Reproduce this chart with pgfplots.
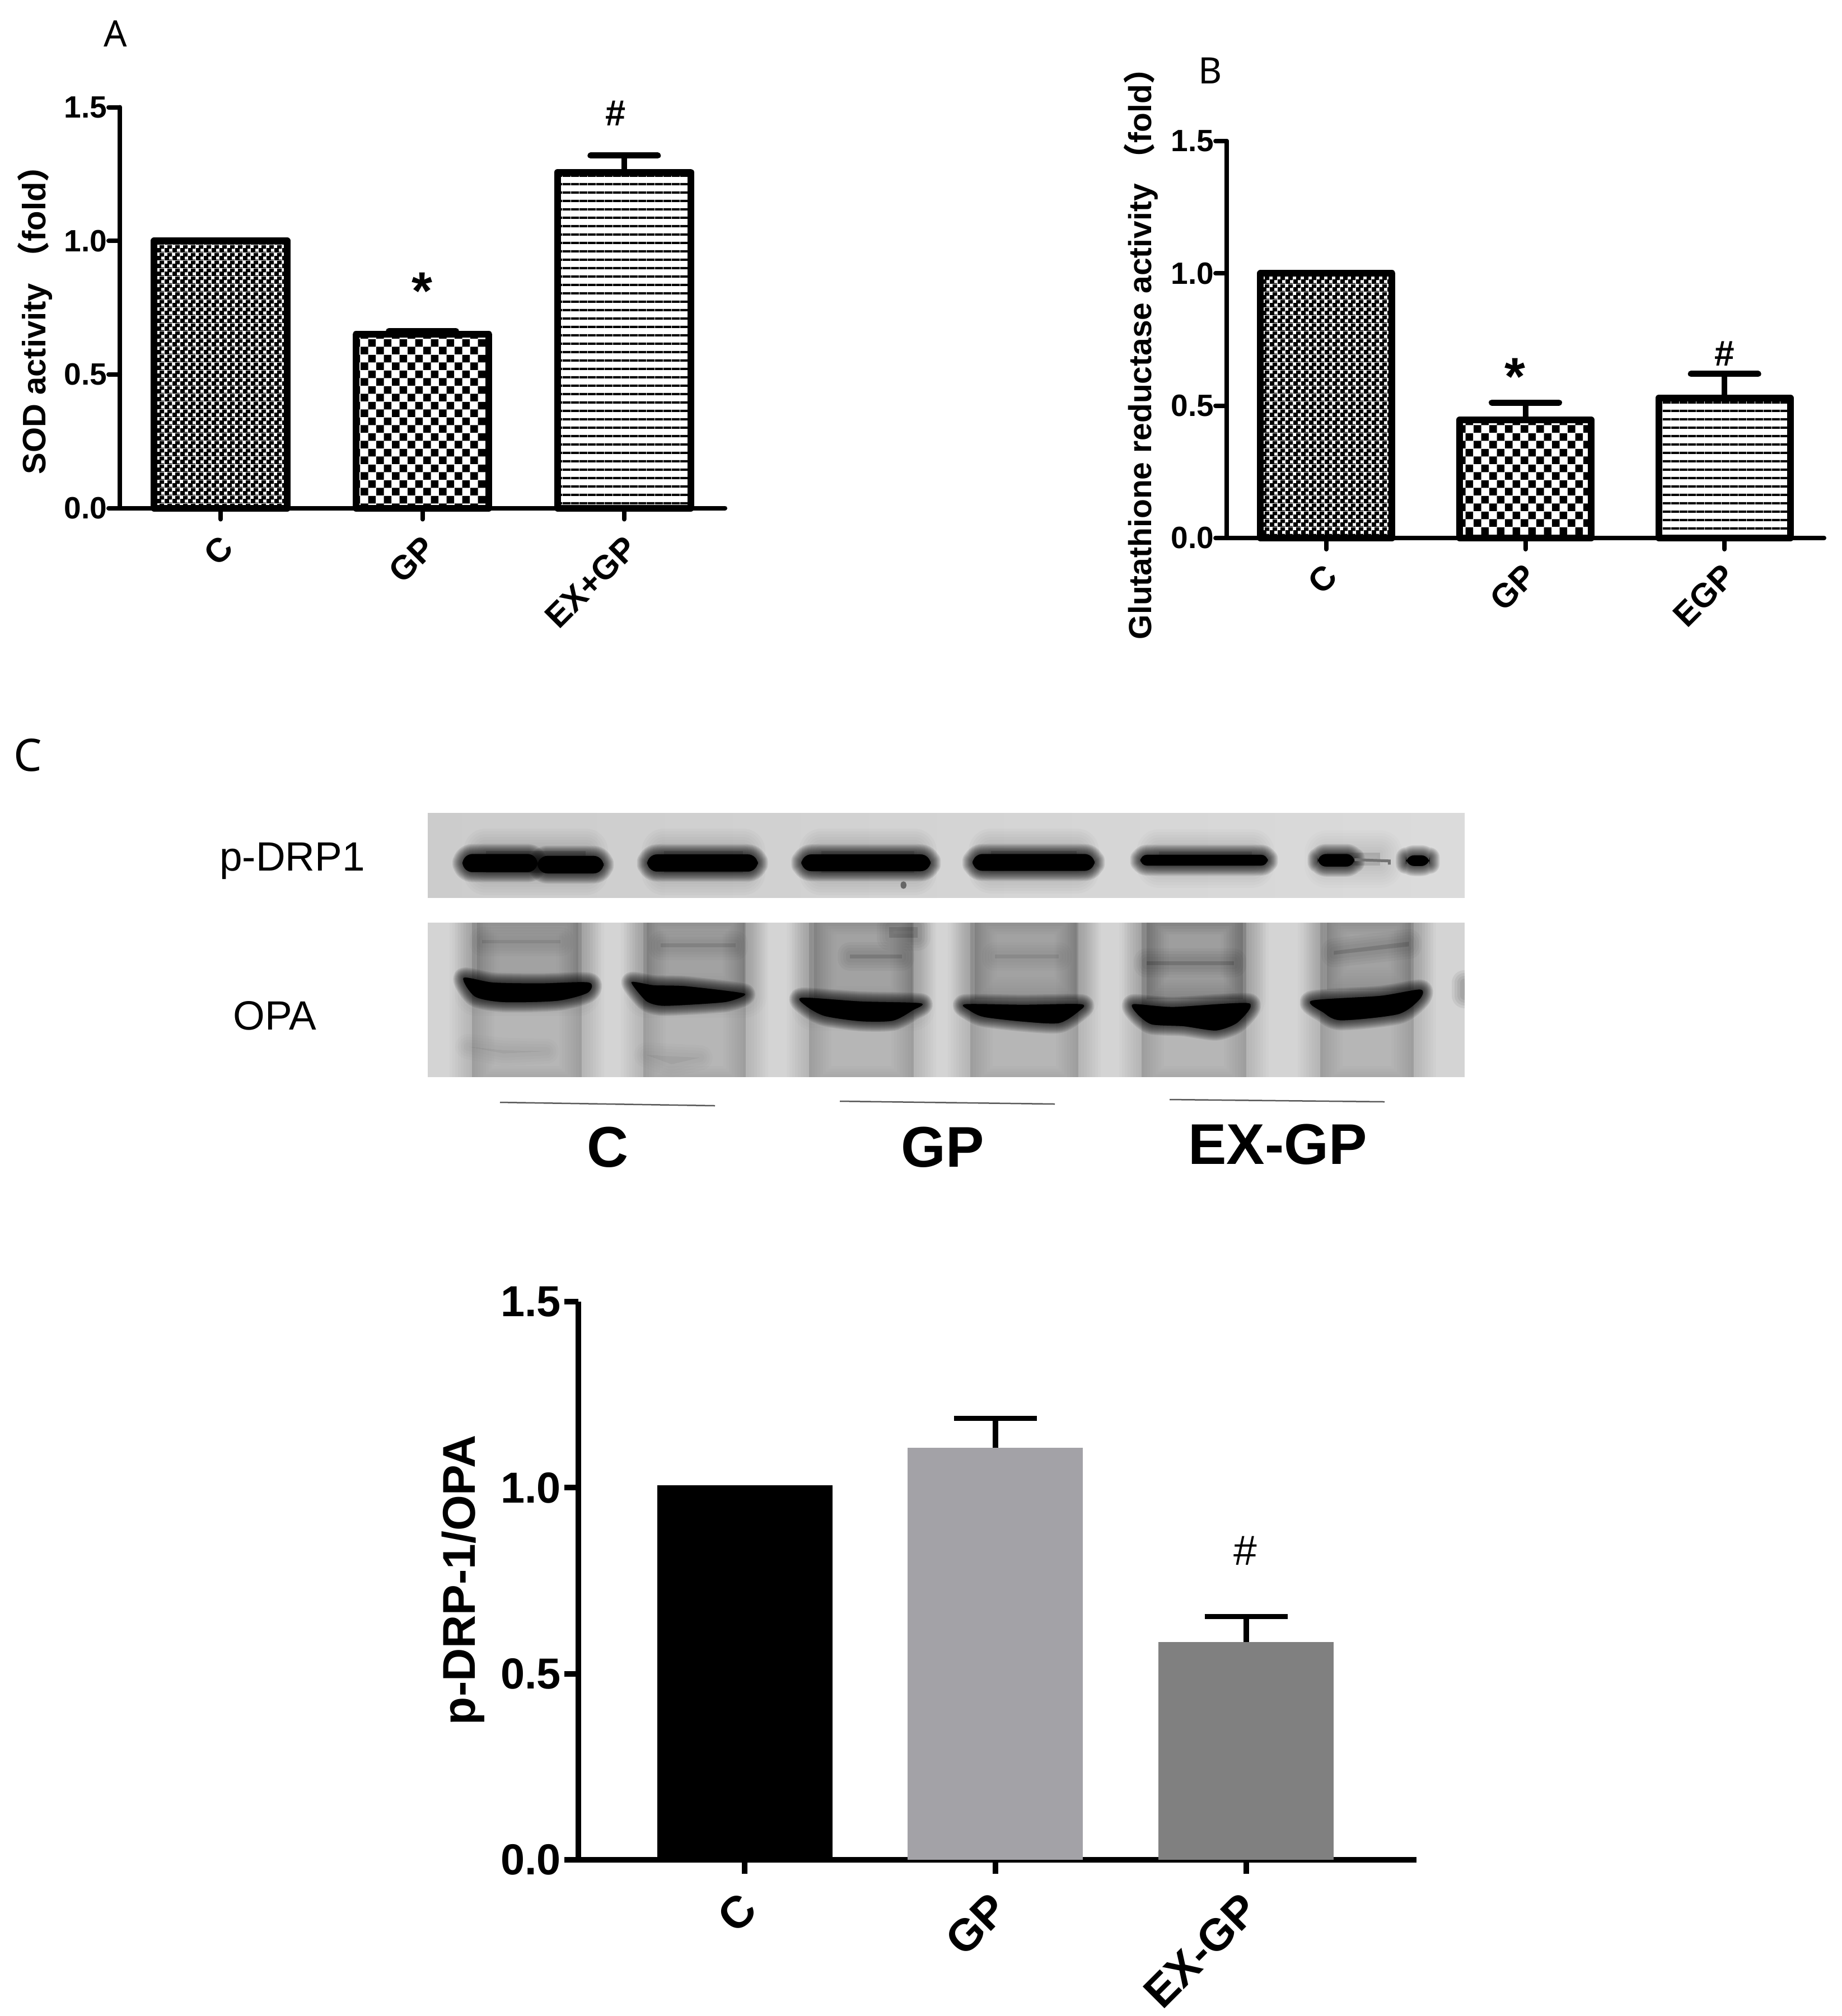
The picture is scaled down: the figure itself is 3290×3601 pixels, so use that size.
\documentclass[border=0pt]{standalone}
\usepackage{fontspec}
\usepackage{pgfplots}
\pgfplotsset{compat=1.18}
\usetikzlibrary{patterns}
\setmainfont{Liberation Sans}
\newfontfamily\cjk{Noto Sans CJK SC}
\newfontfamily\lab{Noto Sans}

% 1 reference pixel = 0.2pt
\pgfdeclarepatternformonly{chkfine}{\pgfqpoint{0pt}{0pt}}{\pgfqpoint{2.8pt}{2.8pt}}{\pgfqpoint{2.8pt}{2.8pt}}{%
  \pgfpathrectangle{\pgfqpoint{0pt}{0pt}}{\pgfqpoint{2.8pt}{0.3pt}}%
  \pgfpathrectangle{\pgfqpoint{0pt}{0.3pt}}{\pgfqpoint{1.7pt}{1.1pt}}%
  \pgfpathrectangle{\pgfqpoint{0pt}{1.4pt}}{\pgfqpoint{2.8pt}{0.3pt}}%
  \pgfpathrectangle{\pgfqpoint{1.1pt}{1.7pt}}{\pgfqpoint{1.7pt}{1.1pt}}%
  \pgfusepath{fill}}
\pgfdeclarepatternformonly{chkbig}{\pgfqpoint{0pt}{0pt}}{\pgfqpoint{5.6pt}{5.6pt}}{\pgfqpoint{5.6pt}{5.6pt}}{%
  \pgfpathrectangle{\pgfqpoint{0pt}{0pt}}{\pgfqpoint{2.8pt}{2.8pt}}%
  \pgfpathrectangle{\pgfqpoint{2.8pt}{2.8pt}}{\pgfqpoint{2.8pt}{2.8pt}}%
  \pgfusepath{fill}}
\pgfdeclarepatternformonly{hlines}{\pgfqpoint{0pt}{0pt}}{\pgfqpoint{3pt}{3pt}}{\pgfqpoint{3pt}{3pt}}{%
  \pgfpathrectangle{\pgfqpoint{0pt}{0pt}}{\pgfqpoint{3pt}{0.9pt}}%
  \pgfusepath{fill}}

\pgfplotsset{
  panel/.style={
    scale only axis,
    axis lines=left,
    axis line style={-,line width=1.6pt,line cap=round},
    tick style={line width=1.6pt,black,line cap=round},
    major tick length=4pt,
    tick align=outside,
    xmin=-0.5,xmax=2.5,ymin=0,ymax=1.5,
    xtick={0,1,2},
    ytick={0,0.5,1,1.5},
    clip=false,
    ybar,
    bar shift=0pt,
    bar width=47.5pt,
    y tick label style={/pgf/number format/.cd,fixed,fixed zerofill,precision=1,assume math mode=true},
    tick label style={font=\fontsize{11}{12}\selectfont\bfseries,inner sep=0.4pt},
    x tick label style={font=\fontsize{12}{13}\selectfont\bfseries,rotate=45,anchor=east,yshift=-8pt},
    label style={font=\fontsize{11.6}{13}\selectfont\bfseries,rotate=0},
    error bars/error bar style={line width=2pt,black},
    error bars/error mark options={rotate=90,mark size=12pt,line width=2.2pt,line cap=round,black},
  },
  pat/.style={draw=black,line width=2.4pt,line join=round,pattern=#1,pattern color=black},
}

% blot helpers: soft edge by stacked translucent strokes
\newcommand{\band}[2][]{%
  \foreach \w in {7.2,6.4,5.6,4.8,4,3.2,2.4,1.6,.8}{\draw[black,opacity=.1,line width=\w pt,line join=round,fill=black,#1] #2;}
  \fill[black,#1] #2;}
\newcommand{\soft}[3][]{%
  \foreach \w in {16,14,12,10,8,6,4,2}{\draw[black,opacity=#2,line width=\w pt,line join=round,fill=black,#1] #3;}}
\newcommand{\faint}[2]{%
  \foreach \w in {9,7,5,3}{\draw[black,opacity=#1,line width=\w pt,line join=round,fill=black] #2;}}
\tikzset{
  zl/.style={shift={(740,1430)},x=0.12755pt,y=-0.06633pt},
  zr/.style={shift={(1700,1430)},x=0.12755pt,y=-0.06633pt},
}

\begin{document}
\begin{tikzpicture}[x=0.2pt,y=-0.2pt]
\useasboundingbox (0,0) rectangle (3290,3601);

% panel A
\begin{axis}[panel,anchor=south west,at={(42.8pt,-181.5pt)},width=216.2pt,height=143.2pt,
  x tick label style={xshift=-3.5pt,yshift=0.55pt},
  xticklabels={C,GP,EX+GP},
  ylabel={SOD activity {\cjk （}fold{\cjk ）}},
  every axis y label/.append style={at={(rel axis cs:-0.1406,0.489)},rotate=0,anchor=center}]
\addplot[pat=chkfine] coordinates {(0,1)};
\addplot[pat=chkbig,error bars/.cd,y dir=plus,y explicit] coordinates {(1,0.65) +- (0,0.012)};
\addplot[pat=hlines,error bars/.cd,y dir=plus,y explicit] coordinates {(2,1.257) +- (0,0.062)};
\end{axis}

% panel B
\begin{axis}[panel,anchor=south west,at={(438.2pt,-192.2pt)},width=213.4pt,height=141.8pt,
  bar width=47pt,
  x tick label style={xshift=-3.56pt,yshift=1.46pt},
  label style={font=\fontsize{11.4}{13}\selectfont\bfseries},
  xticklabels={C,GP,EGP},
  ylabel={Glutathione reductase activity {\cjk （}fold{\cjk ）}},
  every axis y label/.append style={at={(rel axis cs:-0.1434,0.484)},rotate=0,anchor=center}]
\addplot[pat=chkfine] coordinates {(0,1)};
\addplot[pat=chkbig,error bars/.cd,y dir=plus,y explicit] coordinates {(1,0.446) +- (0,0.066)};
\addplot[pat=hlines,error bars/.cd,y dir=plus,y explicit] coordinates {(2,0.529) +- (0,0.091)};
\end{axis}

% panel C chart
\begin{axis}[panel,anchor=south west,at={(206.6pt,-664.4pt)},width=299.4pt,height=199.4pt,
  xmin=-0.664,xmax=2.68,
  bar width=62.6pt,
  axis line style={-,line width=2pt,line cap=butt},
  tick style={line width=2pt,black,line cap=butt},
  major tick length=5pt,
  tick label style={font=\fontsize{15.5}{17}\selectfont\bfseries,inner sep=1pt},
  x tick label style={font=\fontsize{16}{17}\selectfont\bfseries,xshift=-4.76pt,yshift=0.05pt},
  label style={font=\fontsize{16.4}{18}\selectfont\bfseries},
  error bars/error mark options={rotate=90,mark size=14.8pt,line width=1.8pt,line cap=butt,black},
  xticklabels={C,GP,EX-GP},
  ylabel={p-DRP-1/OPA},
  every axis y label/.append style={at={(rel axis cs:-0.1376,0.5015)},rotate=0,anchor=center}]
\addplot[draw=none,fill=black] coordinates {(0,1.006)};
\addplot[draw=none,fill={rgb,255:red,163;green,162;blue,167},error bars/.cd,y dir=plus,y explicit] coordinates {(1,1.108) +- (0,0.079)};
\addplot[draw=none,fill={rgb,255:red,128;green,128;blue,128},error bars/.cd,y dir=plus,y explicit] coordinates {(2,0.585) +- (0,0.069)};
\end{axis}

% significance marks
\node[inner sep=0,font=\fontsize{13}{14}\selectfont\bfseries] at (1100,202) {\#};
\node[inner sep=0,font=\fontsize{19}{22}\selectfont\bfseries] at (754,520) {*};
\node[inner sep=0,font=\fontsize{19}{22}\selectfont\bfseries] at (2706,673) {*};
\node[inner sep=0,font=\fontsize{12.8}{14}\selectfont\bfseries] at (3080,632) {\#};
\node[inner sep=0,font=\fontsize{15}{17}\selectfont] at (2224,2770) {\#};

% panel letters
\node[inner sep=0,font=\lab\fontsize{13}{15}\selectfont] at (206,60) {A};
\node[inner sep=0,font=\lab\fontsize{13}{15}\selectfont] at (2162,126) {B};
\node[inner sep=0,font=\lab\fontsize{16}{18}\selectfont] at (50,1349) {C};

% upper blot
\begin{scope}
\clip (764,1452) rectangle (2616,1603);
\shade[left color=black!20,right color=black!14] (764,1452) rectangle (2616,1603);
\begin{scope}[zl]
\soft{.02}{(200,270) rectangle (480,390)}
\soft{.02}{(700,270) rectangle (920,390)}
\soft{.02}{(1140,270) rectangle (1400,390)}
\band[rounded corners=3.6pt]{(135,288) rectangle (345,385)}
\band[rounded corners=3.6pt]{(345,298) rectangle (530,392)}
\band[rounded corners=3.6pt]{(652,290) rectangle (962,382)}
\band[rounded corners=3.6pt]{(1084,290) rectangle (1446,380)}
\fill[black!60,rounded corners=1pt] (1362,435) rectangle (1378,475);
\end{scope}
\begin{scope}[zr]
\soft{.02}{(110,270) rectangle (350,380)}
\soft{.016}{(580,275) rectangle (840,350)}
\soft{.012}{(1050,280) rectangle (1200,350)}
\band[rounded corners=3.6pt]{(58,288) rectangle (400,378)}
\band[rounded corners=2.4pt]{(528,292) rectangle (885,350)}
\band[rounded corners=3pt]{(1025,288) rectangle (1128,355)}
\draw[black!55,line width=1pt] (1128,318) -- (1225,325) -- (1225,345);
\band[rounded corners=3pt]{(1272,295) rectangle (1338,352)}
\end{scope}
\end{scope}

% lower blot
\begin{scope}
\clip (764,1648) rectangle (2616,1923.5);
\fill[black!17] (764,1648) rectangle (2616,1923.5);
\begin{scope}[zl]
\soft{.016}{(161,600) rectangle (469,1550)}
\soft{.016}{(641,600) rectangle (929,1550)}
\soft{.016}{(1106,600) rectangle (1399,1550)}
\soft{.013}{(175,600) rectangle (460,1040)}
\soft{.013}{(650,600) rectangle (925,1050)}
\soft{.013}{(1120,600) rectangle (1395,1120)}
\faint{.02}{(190,750) rectangle (410,770)}
\faint{.025}{(690,770) rectangle (900,790)}
\faint{.03}{(1220,830) rectangle (1365,850)}
\faint{.03}{(1330,680) rectangle (1410,740)}
\faint{.012}{(150,1325) -- (250,1345) -- (370,1350) -- (250,1362) -- cycle}
\faint{.012}{(650,1370) -- (800,1385) -- (720,1420) -- cycle}
\band{plot[smooth cycle,tension=.45] coordinates {(138,955) (220,980) (350,985) (488,980) (485,1035) (400,1078) (250,1085) (170,1055)}}
\band{plot[smooth cycle,tension=.35] coordinates {(608,978) (670,995) (760,1000) (925,1040) (870,1085) (700,1105) (650,1080)}}
\band{plot[smooth cycle,tension=.45] coordinates {(1085,1062) (1250,1082) (1418,1092) (1395,1130) (1340,1185) (1250,1188) (1150,1160) (1100,1110)}}
\end{scope}
\begin{scope}[zr]
\soft{.016}{(51,600) rectangle (354,1550)}
\soft{.016}{(531,600) rectangle (824,1550)}
\soft{.016}{(1031,600) rectangle (1294,1550)}
\soft{.010}{(65,600) rectangle (350,1070)}
\soft{.015}{(545,600) rectangle (815,1070)}
\soft{.012}{(1050,600) rectangle (1285,1020)}
\faint{.015}{(120,830) rectangle (300,850)}
\faint{.035}{(545,865) rectangle (790,885)}
\faint{.03}{(1070,810) -- (1280,760) -- (1280,785) -- (1070,830) -- cycle}
\band{plot[smooth cycle,tension=.45] coordinates {(38,1097) (200,1100) (362,1097) (355,1135) (300,1198) (200,1190) (90,1165) (50,1130)}}
\band{plot[smooth cycle,tension=.4] coordinates {(508,1097) (620,1112) (832,1092) (800,1195) (740,1238) (650,1215) (560,1205) (520,1150)}}
\band{plot[smooth cycle,tension=.45] coordinates {(1008,1078) (1200,1052) (1312,1018) (1310,1070) (1250,1150) (1090,1183) (1040,1140)}}
\faint{.06}{(1436,980) rectangle (1440,1050)}
\end{scope}
\end{scope}

% blot labels
\node[inner sep=0,font=\fontsize{14.6}{16}\selectfont] at (522,1538) {p-DRP1};
\node[inner sep=0,font=\fontsize{14.6}{16}\selectfont] at (491,1814) {OPA};
\draw[black!65,line width=0.5pt] (893,1969) -- (1277,1975);
\draw[black!65,line width=0.5pt] (1500,1967) -- (1884,1972);
\draw[black!65,line width=0.5pt] (2089,1964) -- (2473,1968);
\node[inner sep=0,font=\fontsize{20.5}{22}\selectfont\bfseries] at (1086,2049) {C};
\node[inner sep=0,font=\fontsize{20.5}{22}\selectfont\bfseries] at (1684,2049) {GP};
\node[inner sep=0,font=\fontsize{20.5}{22}\selectfont\bfseries] at (2282,2044) {EX-GP};
\end{tikzpicture}
\end{document}
